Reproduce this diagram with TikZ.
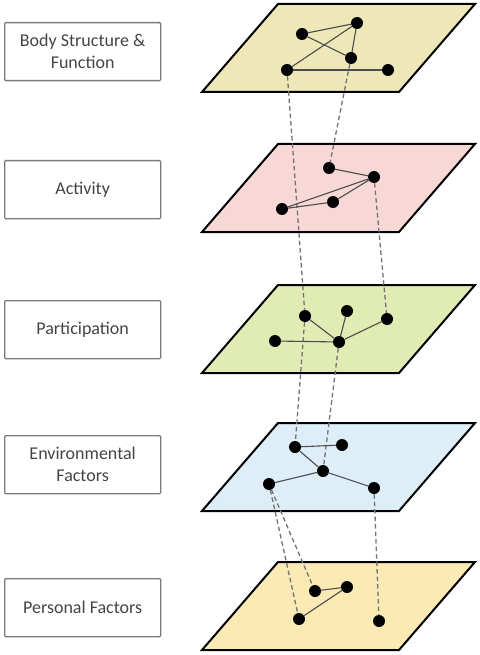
\documentclass[tikz,border=0pt]{standalone}
\usepackage{fontspec}
\setmainfont{Carlito}
\definecolor{cA}{HTML}{EEE8B8}
\definecolor{cB}{HTML}{F8D7D7}
\definecolor{cC}{HTML}{E1EBB4}
\definecolor{cD}{HTML}{DDEEF8}
\definecolor{cE}{HTML}{FBEAB4}
\definecolor{txt}{HTML}{444444}
\definecolor{boxln}{HTML}{7A7A7A}
\begin{document}
\begin{tikzpicture}[x=1pt,y=-1pt,
  lbl/.style={draw=boxln,line width=1.3pt,rounded corners=1pt,minimum width=156pt,minimum height=58pt,
    align=center,font=\fontsize{18}{22}\selectfont,text=txt,anchor=north west,inner sep=0pt},
  plane/.style={draw=black,line width=2pt,line join=miter},
  dot/.style={circle,fill=black,inner sep=0pt,minimum size=12pt},
  link/.style={draw=black!70,line width=1.1pt},
  vert/.style={draw=black!55,line width=1.3pt,dash pattern=on 4.5pt off 3pt}]
\useasboundingbox (0,0) rectangle (479,655);
% label boxes
\node[lbl] (b1) at (4,22) {Body Structure \&\\Function};
\node[lbl] (b2) at (4,160) {Activity};
\node[lbl] (b3) at (4,300) {Participation};
\node[lbl] (b4) at (4,435) {Environmental\\Factors};
\node[lbl] (b5) at (4,578) {Personal Factors};
% planes
\foreach \t/\c in {4/cA,144/cB,285/cC,423/cD,562/cE}{
  \fill[\c] (278,\t) -- (475,\t) -- (399,\t+88) -- (202,\t+88) -- cycle;
  \draw[plane] (278,\t) -- (475,\t) -- (399,\t+88) -- (202,\t+88) -- cycle;
}
% dots
\node[dot] (A) at (302,34) {};
\node[dot] (B) at (357,23) {};
\node[dot] (C) at (351,58) {};
\node[dot] (D) at (287,70) {};
\node[dot] (E) at (388,70) {};
\node[dot] (F) at (329,168) {};
\node[dot] (G) at (374,177) {};
\node[dot] (H) at (333,202) {};
\node[dot] (I) at (282,209) {};
\node[dot] (J) at (305,316) {};
\node[dot] (K) at (347,311) {};
\node[dot] (L) at (387,319) {};
\node[dot] (M) at (275,341) {};
\node[dot] (N) at (339,342) {};
\node[dot] (O) at (295,447) {};
\node[dot] (Q) at (342,445) {};
\node[dot] (P) at (323,471) {};
\node[dot] (R) at (269,484) {};
\node[dot] (S) at (374,488) {};
\node[dot] (T) at (315,591) {};
\node[dot] (U) at (347,587) {};
\node[dot] (V) at (299,619) {};
\node[dot] (W) at (379,621) {};
% vertical dashed links
\draw[vert] (D) -- (J);
\draw[vert] (C) -- (F);
\draw[vert] (G) -- (L);
\draw[vert] (J) -- (O);
\draw[vert] (N) -- (P);
\draw[vert] (R) -- (T);
\draw[vert] (R) -- (V);
\draw[vert] (S) -- (W);
% in-plane links
\draw[link] (A) -- (B);
\draw[link] (A) -- (C);
\draw[link] (D) -- (B);
\draw[link] (B) -- (C);
\draw[link] (D) -- (E);
\draw[link] (F) -- (G);
\draw[link] (G) -- (I);
\draw[link] (G) -- (H);
\draw[link] (H) -- (I);
\draw[link] (J) -- (N);
\draw[link] (K) -- (N);
\draw[link] (L) -- (N);
\draw[link] (M) -- (N);
\draw[link] (O) -- (Q);
\draw[link] (O) -- (P);
\draw[link] (P) -- (R);
\draw[link] (P) -- (S);
\draw[link] (T) -- (U);
\draw[link] (U) -- (V);
\end{tikzpicture}
\end{document}
